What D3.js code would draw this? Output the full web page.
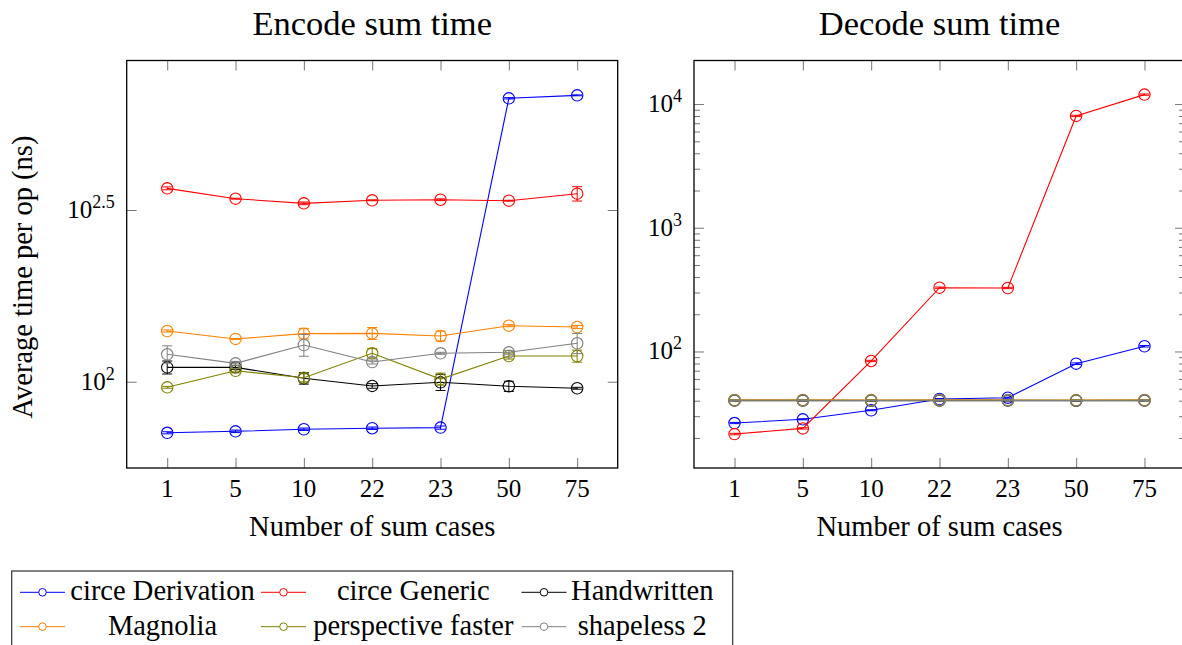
<!DOCTYPE html>
<html>
<head>
<meta charset="utf-8">
<script src="https://cdn.jsdelivr.net/npm/d3@7"></script>
<style>
  body { margin: 0; background: #fff; }
  svg { display: block; }
  svg text { font-family: "Liberation Serif", "Times New Roman", serif; }
</style>
</head>
<body>
<div id="chart"></div>
<script>
// categories and series
var cases = ["1", "5", "10", "22", "23", "50", "75"]
var seriesNames = ["circe Derivation", "circe Generic", "Handwritten", "Magnolia", "perspective faster", "shapeless 2"]
var seriesColors = ["#0000ff", "#ff0000", "#000000", "#ff8000", "#808000", "#808080"]

// encode, average ns per op (mean and error)
var encDerivation     = [71.0, 71.7, 72.7, 73.2, 73.5, 668.8, 682.3]
var encDerivationErr  = [0.5, 0.6, 0.6, 0.6, 0.8, 3, 2]
var encGeneric        = [365.7, 341.2, 330.7, 337.5, 338.8, 336.6, 352.8]
var encGenericErr     = [3.5, 1, 3, 1, 2, 1, 17]
var encHandwritten    = [110.1, 110.1, 102.3, 97.2, 99.6, 97.0, 95.7]
var encHandwrittenErr = [4.8, 1.5, 3.9, 1.5, 5.3, 3.3, 0.6]
var encMagnolia       = [140.5, 133.2, 138.0, 138.3, 135.9, 145.6, 144.3]
var encMagnoliaErr    = [1, 0.4, 5, 5.5, 4.5, 1, 1.5]
var encPerspective    = [96.3, 107.6, 102.7, 121.0, 101.8, 118.8, 118.8]
var encPerspectiveErr = [0.6, 1.5, 2.8, 3.8, 4.1, 2.4, 4.8]
var encShapeless      = [120.2, 113.1, 127.9, 114.1, 121.0, 121.8, 129.4]
var encShapelessErr   = [7, 1.5, 9.3, 1.5, 0.8, 1.6, 8.7]

// decode, average ns per op (mean and error)
var decDerivation     = [26.4, 28.3, 33.5, 41.3, 42.3, 79.7, 110.2]
var decDerivationErr  = [0.3, 0.3, 0.3, 0.4, 0.4, 1.2, 1.5]
var decGeneric        = [21.5, 23.9, 83.8, 327.8, 326, 8017, 11920]
var decGenericErr     = [0.3, 0.3, 1, 4, 4, 100, 140]
var decHandwritten    = [40.1, 40.1, 40.0, 40.1, 40.1, 40.0, 40.1]
var decHandwrittenErr = [0.3, 0.3, 0.3, 0.3, 0.3, 0.3, 0.3]
var decMagnolia       = [40.6, 40.6, 40.5, 40.6, 40.6, 40.5, 40.6]
var decMagnoliaErr    = [0.3, 0.3, 0.3, 0.3, 0.3, 0.3, 0.3]
var decPerspective    = [40.4, 40.4, 40.3, 40.4, 40.4, 40.3, 40.4]
var decPerspectiveErr = [0.3, 0.3, 0.3, 0.3, 0.3, 0.3, 0.3]
var decShapeless      = [40.3, 40.3, 40.2, 40.3, 40.3, 40.2, 40.3]
var decShapelessErr   = [0.3, 0.3, 0.3, 0.3, 0.3, 0.3, 0.3]

// y ticks: exponents of ten
var encTickExp = ["2", "2.5"]
var decTickExp = ["2", "3", "4"]

var width = 1182
var height = 645
var panelW = 491
var panelTop = 60.5
var panelBottom = 468
var tickFont = 25
var labelFont = 28.5

var svg = d3.select("#chart").append("svg")
    .attr("width", width)
    .attr("height", height)

drawPanel({
  left: 126.7,
  title: "Encode sum time",
  yLabel: "Average time per op (ns)",
  domain: [Math.pow(10, 1.7487), Math.pow(10, 2.9354)],
  tickExp: encTickExp,
  minor: false,
  means: [encDerivation, encGeneric, encHandwritten, encMagnolia, encPerspective, encShapeless],
  errs: [encDerivationErr, encGenericErr, encHandwrittenErr, encMagnoliaErr, encPerspectiveErr, encShapelessErr]
})

drawPanel({
  left: 694,
  title: "Decode sum time",
  yLabel: null,
  domain: [Math.pow(10, 1.0582), Math.pow(10, 4.352)],
  tickExp: decTickExp,
  minor: true,
  means: [decDerivation, decGeneric, decHandwritten, decMagnolia, decPerspective, decShapeless],
  errs: [decDerivationErr, decGenericErr, decHandwrittenErr, decMagnoliaErr, decPerspectiveErr, decShapelessErr]
})

drawLegend()

function drawPanel(p){
  var right = p.left + panelW
  var x = d3.scalePoint().domain(cases).range([p.left, right]).padding(0.593)
  var y = d3.scaleLog().domain(p.domain).range([panelBottom, panelTop])
  var g = svg.append("g")

  var tickVals = p.tickExp.map(function(e){ return Math.pow(10, +e) })

  // minor ticks (2..9 between the labelled decades)
  if(p.minor){
    var minorVals = []
    for(var k=1; k<4; k++){
      for(var m=2; m<10; m++) minorVals.push(m*Math.pow(10, k))
    }
    g.append("g").attr("transform", "translate("+p.left+",0)")
      .call(d3.axisLeft(y).tickValues(minorVals).tickSize(-6).tickFormat(""))
      .attr("class", "tk")
    g.append("g").attr("transform", "translate("+right+",0)")
      .call(d3.axisRight(y).tickValues(minorVals).tickSize(-6).tickFormat(""))
      .attr("class", "tk")
  }

  g.append("g").attr("transform", "translate("+p.left+",0)")
    .call(d3.axisLeft(y).tickValues(tickVals).tickSize(-10).tickFormat(""))
    .attr("class", "tk")
  g.append("g").attr("transform", "translate("+right+",0)")
    .call(d3.axisRight(y).tickValues(tickVals).tickSize(-10).tickFormat(""))
    .attr("class", "tk")
  g.append("g").attr("transform", "translate(0,"+panelBottom+")")
    .call(d3.axisBottom(x).tickSize(-10).tickFormat(""))
    .attr("class", "tk")
  g.append("g").attr("transform", "translate(0,"+panelTop+")")
    .call(d3.axisTop(x).tickSize(-10).tickFormat(""))
    .attr("class", "tk")

  g.selectAll(".tk .domain").remove()
  g.selectAll(".tk line").attr("stroke", "#777").attr("stroke-width", 1)

  // y tick labels as 10^e
  var yl = g.append("g").selectAll("text")
    .data(p.tickExp)
    .enter()
    .append("text")
    .attr("x", p.left - 12)
    .attr("y", function(d){ return y(Math.pow(10, +d)) + 8 })
    .attr("text-anchor", "end")
    .attr("font-size", tickFont)
    .attr("fill", "#000")
  yl.append("tspan").text("10")
  yl.append("tspan").attr("dy", -10).attr("font-size", 18).text(function(d){ return d })

  // x tick labels
  g.append("g").selectAll("text")
    .data(cases)
    .enter()
    .append("text")
    .attr("x", function(d){ return x(d) })
    .attr("y", 497)
    .attr("text-anchor", "middle")
    .attr("font-size", tickFont)
    .text(function(d){ return d })

  g.append("text")
    .attr("x", (p.left + right)/2)
    .attr("y", 536)
    .attr("text-anchor", "middle")
    .attr("font-size", labelFont)
    .text("Number of sum cases")

  g.append("text")
    .attr("x", (p.left + right)/2)
    .attr("y", 35)
    .attr("text-anchor", "middle")
    .attr("font-size", 34.5)
    .text(p.title)

  if(p.yLabel){
    g.append("text")
      .attr("transform", "translate(32,277) rotate(-90)")
      .attr("text-anchor", "middle")
      .attr("font-size", labelFont)
      .text(p.yLabel)
  }

  var line = d3.line()
    .x(function(d, i){ return x(cases[i]) })
    .y(function(d){ return y(d) })

  for(var s=0; s<p.means.length; s++){
    var col = seriesColors[s]
    var means = p.means[s]
    var errs = p.errs[s]
    var sg = g.append("g")

    sg.append("path")
      .datum(means)
      .attr("d", line)
      .attr("fill", "none")
      .attr("stroke", col)
      .attr("stroke-width", 1.1)

    var pts = means.map(function(v, i){ return {c: cases[i], v: v, e: errs[i]} })

    sg.selectAll(".eb").data(pts).enter().append("line")
      .attr("x1", function(d){ return x(d.c) })
      .attr("x2", function(d){ return x(d.c) })
      .attr("y1", function(d){ return y(d.v - d.e) })
      .attr("y2", function(d){ return y(d.v + d.e) })
      .attr("stroke", col).attr("stroke-width", 1)

    sg.selectAll(".cap-lo").data(pts).enter().append("line")
      .attr("x1", function(d){ return x(d.c) - 5 })
      .attr("x2", function(d){ return x(d.c) + 5 })
      .attr("y1", function(d){ return y(d.v - d.e) })
      .attr("y2", function(d){ return y(d.v - d.e) })
      .attr("stroke", col).attr("stroke-width", 1)

    sg.selectAll(".cap-hi").data(pts).enter().append("line")
      .attr("x1", function(d){ return x(d.c) - 5 })
      .attr("x2", function(d){ return x(d.c) + 5 })
      .attr("y1", function(d){ return y(d.v + d.e) })
      .attr("y2", function(d){ return y(d.v + d.e) })
      .attr("stroke", col).attr("stroke-width", 1)

    sg.selectAll("circle").data(pts).enter().append("circle")
      .attr("cx", function(d){ return x(d.c) })
      .attr("cy", function(d){ return y(d.v) })
      .attr("r", 5.7)
      .attr("fill", "none")
      .attr("stroke", col)
      .attr("stroke-width", 1.1)
  }

  g.append("rect")
    .attr("x", p.left)
    .attr("y", panelTop)
    .attr("width", panelW)
    .attr("height", panelBottom - panelTop)
    .attr("fill", "none")
    .attr("stroke", "#000")
    .attr("stroke-width", 1.3)
}

function drawLegend(){
  var imgX = [42.5, 283.5, 544]
  var textX = [162.5, 413.3, 642.3]
  var rowY = [592.3, 626.7]

  var lg = svg.append("g")
  lg.append("rect")
    .attr("x", 11.7).attr("y", 571)
    .attr("width", 721).attr("height", 100)
    .attr("fill", "#fff")
    .attr("stroke", "#333")
    .attr("stroke-width", 1.2)

  var items = lg.selectAll(".item")
    .data(seriesNames)
    .enter()
    .append("g")
    .attr("transform", function(d, i){ return "translate(0,"+rowY[Math.floor(i/3)]+")" })

  items.append("line")
    .attr("x1", function(d, i){ return imgX[i%3] - 22.5 })
    .attr("x2", function(d, i){ return imgX[i%3] + 22.5 })
    .attr("stroke", function(d, i){ return seriesColors[i] })
    .attr("stroke-width", 1)
  items.append("circle")
    .attr("cx", function(d, i){ return imgX[i%3] })
    .attr("r", 3.8)
    .attr("fill", "#fff")
    .attr("stroke", function(d, i){ return seriesColors[i] })
    .attr("stroke-width", 1)
  items.append("text")
    .attr("x", function(d, i){ return textX[i%3] })
    .attr("y", 8)
    .attr("text-anchor", "middle")
    .attr("font-size", labelFont)
    .text(function(d){ return d })
}
</script>
</body>
</html>
